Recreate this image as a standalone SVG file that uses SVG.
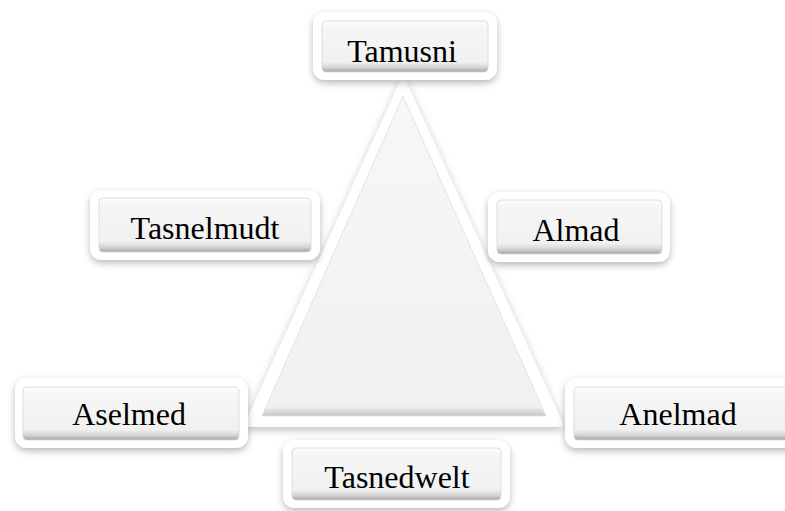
<svg xmlns="http://www.w3.org/2000/svg" width="785" height="511" viewBox="0 0 785 511">
<defs>
<filter id="sh" x="-20%" y="-30%" width="140%" height="170%">
<feDropShadow dx="0" dy="3" stdDeviation="3.5" flood-color="#000" flood-opacity="0.28"/>
</filter>
<filter id="tsh" x="-20%" y="-20%" width="140%" height="140%">
<feDropShadow dx="0" dy="3" stdDeviation="4" flood-color="#000" flood-opacity="0.25"/>
</filter>
<linearGradient id="btn" x1="0" y1="0" x2="0" y2="1">
<stop offset="0" stop-color="#ffffff"/>
<stop offset="0.12" stop-color="#f6f6f6"/>
<stop offset="0.8" stop-color="#f1f1f1"/>
<stop offset="0.9" stop-color="#d8d8d8"/>
<stop offset="1" stop-color="#a6a6a6"/>
</linearGradient>
<linearGradient id="tri" x1="0" y1="0" x2="0" y2="1">
<stop offset="0" stop-color="#f7f7f7"/>
<stop offset="0.97" stop-color="#f1f1f1"/>
<stop offset="1" stop-color="#c4c4c4"/>
</linearGradient>
</defs>
<style>
.frame{fill:#ffffff;filter:url(#sh);}
.btn{fill:url(#btn);stroke:#d6d6d6;stroke-width:0.8;}
.lbl{font-family:"Liberation Serif","Times New Roman",serif;font-size:32px;fill:#000;text-anchor:middle;}
</style>
<rect width="785" height="511" fill="#ffffff"/>
<g id="connectors">
<g id="triangle">
<polygon points="403,82 248,424 560,424" fill="#ffffff" stroke="#ffffff" stroke-width="6" stroke-linejoin="round" filter="url(#tsh)"/>
<polygon points="403,96 262,416 546,416" fill="url(#tri)" stroke="#e2e2e2" stroke-width="1"/>
</g>
</g>
<g id="tamusni">
<rect class="frame" x="313" y="12" width="184" height="68" rx="12"/>
<rect class="btn" x="322" y="21" width="166" height="51" rx="4"/>
<text class="lbl" x="402" y="62">Tamusni</text>
</g>
<g id="tasnelmudt">
<rect class="frame" x="90" y="190" width="230" height="70" rx="12"/>
<rect class="btn" x="99" y="198" width="212" height="54" rx="4"/>
<text class="lbl" x="205" y="239">Tasnelmudt</text>
</g>
<g id="almad">
<rect class="frame" x="488" y="192" width="182" height="70" rx="12"/>
<rect class="btn" x="497" y="200" width="165" height="54" rx="4"/>
<text class="lbl" x="576" y="241">Almad</text>
</g>
<g id="aselmed">
<rect class="frame" x="15" y="378" width="233" height="70" rx="12"/>
<rect class="btn" x="23" y="387" width="216" height="53" rx="4"/>
<text class="lbl" x="129" y="425">Aselmed</text>
</g>
<g id="anelmad">
<rect class="frame" x="565" y="378" width="240" height="70" rx="12"/>
<rect class="btn" x="574" y="387" width="230" height="53" rx="4"/>
<text class="lbl" x="678" y="425">Anelmad</text>
</g>
<g id="tasnedwelt">
<rect class="frame" x="283" y="440" width="227" height="68" rx="12"/>
<rect class="btn" x="292" y="448" width="209" height="52" rx="4"/>
<text class="lbl" x="397" y="488">Tasnedwelt</text>
</g>
</svg>
